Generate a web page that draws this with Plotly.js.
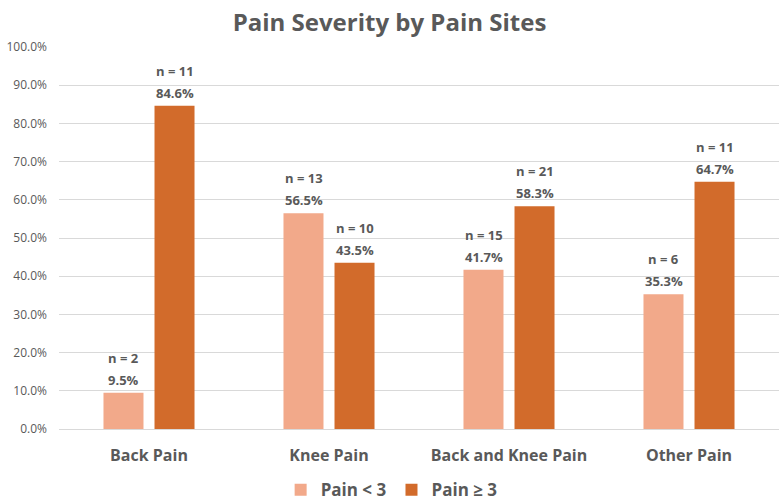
<!DOCTYPE html>
<html>
<head>
<meta charset="utf-8">
<script src="https://cdn.plot.ly/plotly-3.0.1.min.js"></script>
<style>html,body{margin:0;padding:0;background:#fff;}#chart{width:779px;height:500px;}</style>
</head>
<body>
<div id="chart"></div>
<script>
// Pain severity share per pain site
const sites = ['Back Pain', 'Knee Pain', 'Back and Knee Pain', 'Other Pain'];
const lowPct = [9.5, 56.5, 41.7, 35.3];
const lowN = [2, 13, 15, 6];
const highPct = [84.6, 43.5, 58.3, 64.7];
const highN = [11, 10, 21, 11];
const yTicks = [0, 10, 20, 30, 40, 50, 60, 70, 80, 90, 100];

const fontFam = '"Open Sans", "Liberation Sans", sans-serif';
const grey = '#595959';
const labelFont = {family: fontFam, size: 13, color: grey, weight: 'bold'};

const traces = [
  {type: 'bar', name: 'Pain < 3', x: sites, y: lowPct, marker: {color: '#F2A98A'}},
  {type: 'bar', name: 'Pain ≥ 3', x: sites, y: highPct, marker: {color: '#D26B2B'}}
];

// two-line value labels above each bar: count on top, percentage below
const annotations = [];
function addLabels(pct, n, shift) {
  sites.forEach((s, i) => {
    annotations.push({
      x: s, y: pct[i], xref: 'x', yref: 'y', xshift: shift, yshift: 13,
      yanchor: 'middle', showarrow: false, text: pct[i].toFixed(1) + '%', font: labelFont
    });
    annotations.push({
      x: s, y: pct[i], xref: 'x', yref: 'y', xshift: shift, yshift: 35,
      yanchor: 'middle', showarrow: false, text: 'n = ' + n[i], font: labelFont
    });
  });
}
addLabels(lowPct, lowN, -25.5);
addLabels(highPct, highN, 25.5);

const layout = {
  width: 779, height: 500,
  margin: {l: 59, r: 0, t: 47, b: 71, autoexpand: false},
  paper_bgcolor: '#fff', plot_bgcolor: '#fff',
  title: {
    text: '<b>Pain Severity by Pain Sites</b>',
    font: {family: fontFam, size: 24, color: grey},
    x: 0.5, xanchor: 'center', y: 0.955, yanchor: 'middle'
  },
  barmode: 'group', bargap: 0.433, bargroupgap: 0.216,
  xaxis: {
    tickfont: {family: fontFam, size: 16, color: grey, weight: 'bold'},
    showline: true, linecolor: '#d9d9d9', ticks: '', ticklabelstandoff: 12
  },
  yaxis: {
    range: [0, 100], tickvals: yTicks, ticktext: yTicks.map(v => v.toFixed(1) + '%'),
    tickfont: {family: fontFam, size: 12, color: grey},
    showgrid: true, gridcolor: '#d9d9d9', zeroline: false, showline: false, ticks: '',
    ticklabelstandoff: 11
  },
  showlegend: true,
  legend: {
    orientation: 'h', x: 0.462, xanchor: 'center', y: -0.16, yanchor: 'middle',
    font: {family: fontFam, size: 17, color: grey, weight: 'bold'},
    traceorder: 'normal'
  },
  annotations: annotations
};

Plotly.newPlot('chart', traces, layout, {displayModeBar: false, staticPlot: true});
</script>
</body>
</html>
